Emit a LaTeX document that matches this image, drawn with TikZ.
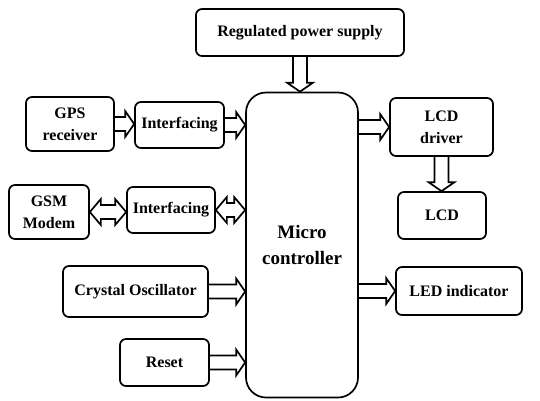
\documentclass[tikz,border=0pt]{standalone}
\usepackage{fontspec}
\setmainfont{Liberation Serif}
\usetikzlibrary{calc}
\tikzset{
  blk/.style={draw, line width=1.7pt, rounded corners=6pt, align=center,
    font=\bfseries\fontsize{16}{22}\selectfont, inner sep=0pt},
  arr/.style={draw, line width=1.7pt, line join=miter},
}
\newcommand\harr[2]{\draw[arr] let \p1=(#1), \p2=(#2) in
  (\x1,\y1+7pt) -- (\x2-9pt,\y1+7pt) -- (\x2-9pt,\y1+13pt) -- (\x2,\y1)
  -- (\x2-9pt,\y1-13pt) -- (\x2-9pt,\y1-7pt) -- (\x1,\y1-7pt);}
\newcommand\varr[2]{\draw[arr] let \p1=(#1), \p2=(#2) in
  (\x1-7pt,\y1) -- (\x1-7pt,\y2+9pt) -- (\x1-13pt,\y2+9pt) -- (\x1,\y2)
  -- (\x1+13pt,\y2+9pt) -- (\x1+7pt,\y2+9pt) -- (\x1+7pt,\y1);}
\newcommand\darr[2]{\draw[arr] let \p1=(#1), \p2=(#2) in
  (\x1,\y1) -- (\x1+11pt,\y1+13pt) -- (\x1+11pt,\y1+7pt) -- (\x2-11pt,\y1+7pt)
  -- (\x2-11pt,\y1+13pt) -- (\x2,\y1) -- (\x2-11pt,\y1-13pt) -- (\x2-11pt,\y1-7pt)
  -- (\x1+11pt,\y1-7pt) -- (\x1+11pt,\y1-13pt) -- cycle;}
\begin{document}
\begin{tikzpicture}[x=1pt,y=-1pt]
\useasboundingbox (0,0) rectangle (540,400);
\node[blk, minimum width=208pt, minimum height=47pt] (rps) at (300,32.5) {Regulated power supply};
\node[blk, rounded corners=20pt, minimum width=112pt, minimum height=305pt,
  font=\bfseries\fontsize{19}{26}\selectfont] (mc) at (302,245) {Micro\\controller};
\node[blk, minimum width=88pt, minimum height=54pt] (gps) at (70,124) {GPS\\receiver};
\node[blk, minimum width=89pt, minimum height=46pt] (if1) at (179.5,125) {Interfacing};
\node[blk, minimum width=103pt, minimum height=58pt] (lcdd) at (441.5,127) {LCD\\driver};
\node[blk, minimum width=88pt, minimum height=47pt] (lcd) at (442,215.5) {LCD};
\node[blk, minimum width=80pt, minimum height=54pt] (gsm) at (49,212) {GSM\\Modem};
\node[blk, minimum width=88pt, minimum height=46pt] (if2) at (171,210) {Interfacing};
\node[blk, minimum width=145pt, minimum height=51pt] (xtal) at (135.5,291.5) {Crystal Oscillator};
\node[blk, minimum width=89pt, minimum height=47pt] (reset) at (164.5,362.5) {Reset};
\node[blk, minimum width=126pt, minimum height=48pt] (led) at (459,291) {LED indicator};
\varr{rps.south}{rps.south |- mc.north}
\harr{gps.east}{gps.east -| if1.west}
\harr{if1.east}{if1.east -| mc.west}
\harr{mc.east |- lcdd.west}{lcdd.west}
\varr{lcdd.south}{lcdd.south |- lcd.north}
\darr{gsm.east}{gsm.east -| if2.west}
\darr{if2.east}{if2.east -| mc.west}
\harr{xtal.east}{xtal.east -| mc.west}
\harr{reset.east}{reset.east -| mc.west}
\harr{mc.east |- led.west}{led.west}
\end{tikzpicture}
\end{document}
